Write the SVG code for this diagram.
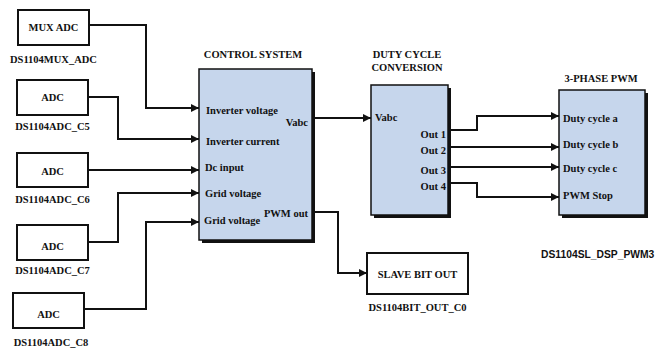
<svg xmlns="http://www.w3.org/2000/svg" width="660" height="349" viewBox="0 0 660 349">
<defs>
<style>
.t{font-family:"Liberation Serif","Times New Roman",serif;font-weight:bold;font-size:10.5px;fill:#111}
.s{font-family:"Liberation Sans",Arial,sans-serif;font-weight:bold;font-size:10.3px;fill:#111}
.box{fill:#fff;stroke:#111;stroke-width:2}
.blk{fill:#c6d6ec;stroke:#111;stroke-width:1.5}
.sh{fill:#111}
.c{fill:none;stroke:#111;stroke-width:2}
</style>
<marker id="ah" viewBox="0 0 10 10" refX="10" refY="5" markerWidth="12" markerHeight="8" markerUnits="userSpaceOnUse" orient="auto">
<path d="M0,0 L10,5 L0,10 z" fill="#111"/>
</marker>
</defs>
<rect width="660" height="349" fill="#fff"/>

<g id="connectors">
<path class="c" d="M89,25 H146 V108 H199" marker-end="url(#ah)"/>
<path class="c" d="M88,97 H118 V139 H199" marker-end="url(#ah)"/>
<path class="c" d="M88,170 H199" marker-end="url(#ah)"/>
<path class="c" d="M88,242 H118 V193 H199" marker-end="url(#ah)"/>
<path class="c" d="M84,309 H146 V222 H199" marker-end="url(#ah)"/>
<path class="c" d="M312,118 H371" marker-end="url(#ah)"/>
<path class="c" d="M312,212 H338 V273 H367" marker-end="url(#ah)"/>
<path class="c" d="M448,130 H477 V116 H559" marker-end="url(#ah)"/>
<path class="c" d="M448,147 H559" marker-end="url(#ah)"/>
<path class="c" d="M448,167 H559" marker-end="url(#ah)"/>
<path class="c" d="M448,183 H477 V197 H559" marker-end="url(#ah)"/>
</g>

<g id="mux_adc">
<rect class="box" x="18" y="10" width="71" height="35"/>
<text class="t" x="53.5" y="31" text-anchor="middle">MUX ADC</text>
<text class="t" x="53.5" y="63" text-anchor="middle">DS1104MUX_ADC</text>
</g>
<g id="adc_c5">
<rect class="box" x="17" y="80" width="71" height="35"/>
<text class="t" x="52.5" y="101" text-anchor="middle">ADC</text>
<text class="t" x="52.5" y="130" text-anchor="middle">DS1104ADC_C5</text>
</g>
<g id="adc_c6">
<rect class="box" x="17" y="153" width="71" height="34"/>
<text class="t" x="52.5" y="175" text-anchor="middle">ADC</text>
<text class="t" x="52.5" y="203" text-anchor="middle">DS1104ADC_C6</text>
</g>
<g id="adc_c7">
<rect class="box" x="17" y="225" width="71" height="35"/>
<text class="t" x="52.5" y="250" text-anchor="middle">ADC</text>
<text class="t" x="52.5" y="274" text-anchor="middle">DS1104ADC_C7</text>
</g>
<g id="adc_c8">
<rect class="box" x="13" y="293" width="71" height="35"/>
<text class="t" x="48.5" y="318" text-anchor="middle">ADC</text>
<text class="t" x="51" y="346" text-anchor="middle">DS1104ADC_C8</text>
</g>

<g id="control_system">
<text class="t" x="253" y="58" text-anchor="middle">CONTROL SYSTEM</text>
<rect class="sh" x="202" y="72" width="113" height="171"/>
<rect class="blk" x="199" y="69" width="113" height="171"/>
<text class="t" x="206" y="114">Inverter voltage</text>
<text class="t" x="308" y="126" text-anchor="end">Vabc</text>
<text class="t" x="206" y="145">Inverter current</text>
<text class="t" x="205" y="171">Dc input</text>
<text class="t" x="205" y="197">Grid voltage</text>
<text class="t" x="204" y="224">Grid voltage</text>
<text class="t" x="308" y="217" text-anchor="end">PWM out</text>
</g>

<g id="duty_cycle_conversion">
<text class="t" x="407" y="58" text-anchor="middle">DUTY CYCLE</text>
<text class="t" x="407" y="71" text-anchor="middle">CONVERSION</text>
<rect class="sh" x="374" y="88" width="77" height="130"/>
<rect class="blk" x="371" y="85" width="77" height="130"/>
<text class="t" x="375" y="121">Vabc</text>
<text class="t" x="446" y="138" text-anchor="end">Out 1</text>
<text class="t" x="446" y="154" text-anchor="end">Out 2</text>
<text class="t" x="446" y="174" text-anchor="end">Out 3</text>
<text class="t" x="446" y="190" text-anchor="end">Out 4</text>
</g>

<g id="three_phase_pwm">
<text class="t" x="601" y="82" text-anchor="middle">3-PHASE PWM</text>
<rect class="sh" x="562" y="93" width="86" height="125"/>
<rect class="blk" x="559" y="90" width="86" height="125"/>
<text class="t" x="563" y="122">Duty cycle a</text>
<text class="t" x="563" y="148">Duty cycle b</text>
<text class="t" x="563" y="172">Duty cycle c</text>
<text class="t" x="563" y="199">PWM Stop</text>
<text class="s" x="541" y="258">DS1104SL_DSP_PWM3</text>
</g>

<g id="slave_bit_out">
<rect class="box" x="367" y="253" width="101" height="41"/>
<text class="t" x="417.5" y="278" text-anchor="middle">SLAVE BIT OUT</text>
<text class="t" x="417.5" y="311" text-anchor="middle">DS1104BIT_OUT_C0</text>
</g>
</svg>
